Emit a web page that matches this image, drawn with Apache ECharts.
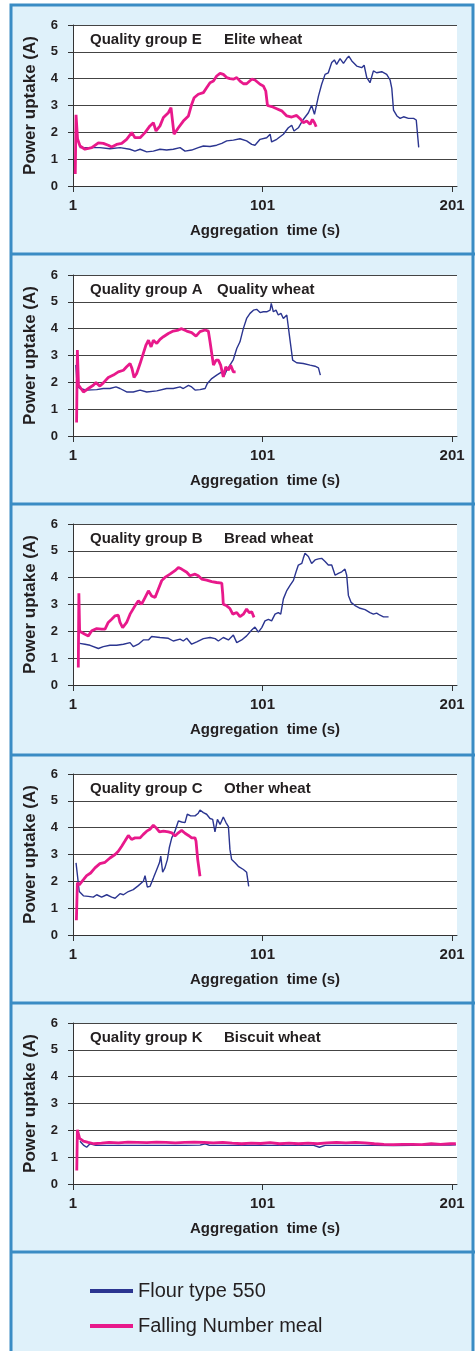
<!DOCTYPE html>
<html>
<head>
<meta charset="utf-8">
<script src="https://cdn.jsdelivr.net/npm/echarts@6/dist/echarts.min.js"></script>
<style>
  html, body { margin: 0; padding: 0; background: #fff; }
  #chart { width: 475px; height: 1351px; }
</style>
</head>
<body>
<div id="chart"></div>
<script>
// series names
const seriesNames = ['Flour type 550', 'Falling Number meal']
const xTickValues = [1, 101, 201]

// group E - Elite wheat
const flourE = [[4.5,1.43],[10,1.43],[15.2,1.43],[20.5,1.39],[25.8,1.43],[31,1.37],[33.7,1.3],[36.4,1.37],[39.9,1.27],[43.4,1.3],[46.9,1.37],[50.4,1.34],[53.9,1.37],[57.5,1.43],[60.1,1.3],[63.6,1.34],[67.1,1.43],[69.8,1.49],[73.3,1.47],[76.8,1.52],[79.5,1.59],[82.1,1.68],[85.6,1.71],[89.1,1.76],[92.6,1.68],[95.3,1.55],[97,1.52],[99.7,1.74],[103.2,1.8],[105,1.93],[105.8,1.64],[108.5,1.74],[112,1.93],[114.6,2.17],[116.4,2.26],[117.6,2.05],[119.9,2.17],[122.5,2.48],[125.2,2.73],[126.9,3.01],[128.4,2.67],[130.5,3.35],[132.2,3.79],[134,4.16],[135.7,4.22],[137.5,4.6],[138.9,4.7],[140.1,4.53],[141.9,4.75],[143.7,4.57],[145.4,4.75],[146.5,4.84],[148.1,4.66],[150.7,4.47],[153.3,4.41],[154.6,4.5],[156,4.04],[157.7,3.85],[159.5,4.29],[161.2,4.22],[163.9,4.26],[166.5,4.16],[168.3,3.95],[169.2,3.64],[170.1,2.83],[171.9,2.61],[173.6,2.52],[175.4,2.58],[178,2.52],[180.7,2.52],[182.1,2.46],[183.4,1.44]]
const mealE = [[2.2,0.45],[2.6,2.65],[3.4,1.75],[4.7,1.49],[7.3,1.37],[10.9,1.43],[14.4,1.61],[17,1.59],[19.6,1.52],[21.4,1.45],[24,1.55],[26.7,1.59],[29.3,1.74],[32,1.99],[33.7,1.8],[36.4,1.8],[39,1.99],[41.6,2.24],[43.4,2.36],[44.8,2.05],[46.9,2.24],[48.7,2.55],[51.3,2.73],[52.7,2.92],[54.3,1.93],[56.6,2.17],[59.2,2.42],[61.9,2.61],[63.6,3.04],[64.9,3.29],[67.1,3.42],[69.8,3.48],[71.5,3.66],[73.3,3.85],[75.1,3.91],[76.8,4.1],[78.6,4.2],[80.3,4.16],[82.1,4.04],[83.8,4.0],[85.6,3.98],[87.4,4.04],[89.1,3.91],[90.9,3.81],[92.6,3.81],[95.3,3.98],[97,3.95],[99.7,3.79],[101.4,3.73],[102.7,3.54],[103.6,3.0],[105.8,2.96],[108.5,2.88],[111.1,2.8],[113.8,2.61],[116.4,2.57],[119,2.63],[120.8,2.51],[122.5,2.36],[124.3,2.42],[126.1,2.3],[127.3,2.48],[128.4,2.36],[129.3,2.21]]

// group A - Quality wheat
const flourA = [[2.5,2.65],[3.2,1.85],[4.7,1.77],[8.2,1.71],[13.5,1.73],[17,1.77],[20.5,1.77],[23.7,1.83],[25.8,1.77],[29.3,1.64],[32.8,1.64],[36.4,1.71],[39.9,1.64],[45.2,1.68],[50.4,1.77],[53.9,1.77],[57.5,1.83],[59.2,1.77],[61.9,1.89],[63.6,1.83],[65.4,1.71],[68,1.73],[70.7,1.77],[71.9,1.96],[74.2,2.14],[76.8,2.27],[79.5,2.39],[80.7,2.23],[82.1,2.45],[83.8,2.64],[85.6,2.85],[87.4,3.26],[89.1,3.51],[90.9,4.01],[92.6,4.38],[94.4,4.57],[96.2,4.69],[97.9,4.72],[99.7,4.6],[101.4,4.63],[103.2,4.63],[105,4.69],[105.6,4.94],[106.7,4.63],[108.1,4.69],[109.3,4.51],[110.7,4.57],[112,4.38],[113.8,4.51],[114.6,4.45],[115.5,3.57],[116.9,2.83],[119,2.73],[122.5,2.7],[126.1,2.64],[128.7,2.6],[130.5,2.54],[131.5,2.27]]
const mealA = [[2.9,0.5],[3.3,3.2],[3.9,1.9],[4.7,1.83],[6.5,1.64],[9.1,1.77],[11.7,1.89],[13.1,1.99],[15.2,1.86],[17,1.98],[19.6,2.18],[22.3,2.27],[24.9,2.39],[27.6,2.45],[29.3,2.58],[31.1,2.7],[32.1,2.52],[33.2,2.18],[34.6,2.33],[36.4,2.7],[38.1,3.08],[39.5,3.39],[40.8,3.57],[42.2,3.32],[43.4,3.57],[45.2,3.45],[46.9,3.6],[48.7,3.7],[51.3,3.82],[53.9,3.91],[56.6,3.95],[58.3,4.0],[61,3.91],[63.6,3.85],[65.9,3.72],[68,3.89],[70.7,3.95],[72.4,3.91],[73.3,3.51],[75.1,2.64],[76.5,2.83],[77.7,2.83],[78.9,2.64],[80.3,2.2],[81.6,2.58],[83,2.45],[84.2,2.64],[85.6,2.39],[86.8,2.39]]

// group B - Bread wheat
const flourB = [[4.5,1.55],[7.3,1.52],[10,1.48],[14.4,1.36],[17,1.43],[20.5,1.48],[24,1.48],[27.6,1.52],[31.1,1.58],[32.8,1.43],[35.5,1.52],[38.1,1.68],[40.8,1.68],[42.5,1.81],[46.9,1.77],[51.3,1.74],[53.9,1.64],[57.5,1.71],[59.2,1.64],[61,1.74],[63.6,1.52],[66.3,1.61],[69.8,1.73],[73.3,1.77],[76,1.73],[77.7,1.64],[80.3,1.77],[83,1.68],[85.6,1.86],[87.4,1.58],[90,1.68],[92.6,1.83],[95.3,2.05],[97,2.16],[98.8,1.97],[100.6,2.14],[102.3,2.39],[104.1,2.45],[105.8,2.39],[107.6,2.64],[109.3,2.7],[110.6,2.64],[112,3.21],[113.8,3.52],[115.5,3.71],[117.3,3.9],[118.7,4.22],[119.9,4.47],[121.7,4.53],[122.5,4.72],[123.4,4.91],[125.2,4.79],[126.9,4.53],[128.7,4.66],[130.5,4.7],[132.2,4.72],[134,4.6],[135.7,4.47],[137.5,4.47],[139.3,4.09],[141,4.16],[142.8,4.22],[144.5,4.32],[145.4,4.09],[146.3,3.34],[147.7,3.08],[149.8,2.96],[152.5,2.86],[155.1,2.81],[157.7,2.7],[159.5,2.64],[161.2,2.68],[163,2.6],[164.8,2.54],[167.5,2.54]]
const mealB = [[3.8,0.65],[4.1,3.42],[4.5,2.0],[4.7,1.96],[7.3,1.89],[9.1,1.83],[10.9,2.02],[13.5,2.1],[16.1,2.08],[17.9,2.08],[19.6,2.33],[21.4,2.45],[23.2,2.58],[24.9,2.6],[25.8,2.33],[27.2,2.14],[29.3,2.33],[31.1,2.64],[33.7,2.95],[35.5,3.14],[37.2,3.01],[39,3.26],[40.8,3.51],[42.5,3.32],[44.3,3.26],[46,3.57],[47.8,3.89],[49.5,4.01],[52.2,4.13],[54.8,4.26],[56.6,4.38],[58.3,4.32],[61,4.2],[62.7,4.07],[65.4,4.13],[67.1,4.07],[68.9,3.95],[71.5,3.91],[74.2,3.85],[76.8,3.82],[79.5,3.8],[80,3.39],[80.3,3.01],[82.1,2.95],[83.8,2.85],[85.3,2.64],[87.4,2.7],[89.1,2.55],[90.9,2.64],[92.6,2.83],[94,2.7],[95.3,2.73],[96.5,2.52]]

// group C - Other wheat
const flourC = [[2.6,2.69],[4.3,1.62],[6.5,1.46],[9.1,1.44],[11.7,1.41],[13.5,1.5],[16.1,1.41],[18.8,1.5],[21.4,1.41],[23.2,1.37],[25.8,1.54],[27.6,1.5],[30.2,1.62],[32.8,1.69],[35.5,1.84],[38.1,2.0],[39,2.21],[40.2,1.79],[41.6,1.81],[43.4,2.12],[45.2,2.44],[46.6,2.69],[47.3,2.94],[48.3,2.34],[49.5,2.5],[50.8,2.81],[51.8,3.25],[53.1,3.62],[54.8,3.87],[56.6,4.25],[58.3,4.21],[60.1,4.19],[61.3,4.5],[63.1,4.44],[65.4,4.44],[67.1,4.54],[68,4.66],[69.8,4.56],[71.5,4.5],[73.3,4.34],[74.7,4.31],[75.9,3.84],[77.2,4.31],[78.6,4.12],[80.3,4.4],[81.7,4.19],[83,4.04],[83.8,3.19],[84.7,2.81],[86.5,2.69],[88.2,2.56],[90.9,2.44],[92.6,2.34],[93.7,1.81]]
const mealC = [[2.8,0.55],[3.3,1.95],[4.3,1.87],[6.5,2.06],[8.2,2.21],[10.3,2.31],[12.6,2.5],[15.2,2.66],[17.9,2.71],[20.5,2.87],[23.2,3.0],[24.9,3.12],[26.7,3.31],[28.4,3.5],[30.2,3.71],[31.9,3.56],[33.7,3.62],[36.4,3.62],[38.1,3.75],[39.9,3.87],[41.6,3.94],[43.4,4.09],[44.8,4.0],[46.6,3.84],[48.7,3.87],[51.3,3.84],[53.1,3.81],[54.8,3.69],[56.6,3.81],[58.3,3.9],[60.1,3.79],[61.9,3.71],[63.6,3.62],[65.4,3.62],[65.9,3.5],[66.8,2.81],[68,2.19]]

// group K - Biscuit wheat
const flourK = [[4.7,1.59],[6.5,1.45],[8.2,1.37],[10,1.5],[13,1.44],[20,1.44],[30,1.44],[40,1.44],[50,1.44],[60,1.44],[68,1.45],[70.7,1.5],[73,1.44],[80,1.44],[90,1.44],[100,1.44],[110,1.44],[120,1.44],[128,1.44],[131,1.37],[134,1.44],[140,1.44],[150,1.44],[160,1.44],[170,1.43],[180,1.44],[190,1.45],[200,1.45],[203,1.46]]
const mealK = [[3.0,0.5],[3.3,2.02],[4.5,1.7],[6.5,1.6],[9,1.55],[12,1.5],[16,1.52],[20,1.55],[25,1.53],[30,1.56],[35,1.55],[40,1.54],[45,1.56],[50,1.55],[55,1.53],[60,1.55],[65,1.56],[70,1.55],[75,1.53],[80,1.55],[85,1.52],[90,1.5],[95,1.52],[100,1.51],[105,1.54],[110,1.5],[115,1.52],[120,1.5],[125,1.52],[130,1.5],[135,1.53],[140,1.55],[145,1.53],[150,1.55],[155,1.53],[160,1.5],[165,1.48],[170,1.47],[175,1.48],[180,1.48],[185,1.47],[190,1.5],[195,1.48],[200,1.5],[203,1.5]]

const groupLabels = ['Quality group E', 'Quality group A', 'Quality group B', 'Quality group C', 'Quality group K']
const wheatLabels = ['Elite wheat', 'Quality wheat', 'Bread wheat', 'Other wheat', 'Biscuit wheat']
const flourData = [flourE, flourA, flourB, flourC, flourK]
const mealData = [mealE, mealA, mealB, mealC, mealK]

// layout
const gridTops = [25, 275, 524, 774, 1023]
const wheatX = [224, 217, 224, 224, 224]
const separators = [254, 504, 755, 1003, 1252]
const gridH = 161
const FONT = '"Liberation Sans", Arial, sans-serif'
const TXT = '#231f20'
const BLUE = '#2b3590'
const PINK = '#e8198b'
const FRAME = '#3a8cc4'

const grids = [], xAxes = [], yAxes = [], series = [], graphics = []

graphics.push({
  type: 'rect', silent: true, z: -10,
  shape: { x: 11, y: 5, width: 462, height: 1360 },
  style: { fill: '#dff1fa', stroke: FRAME, lineWidth: 3 }
})
separators.forEach(y => {
  graphics.push({
    type: 'line', silent: true, z: -9,
    shape: { x1: 11, y1: y, x2: 475, y2: y },
    style: { stroke: FRAME, lineWidth: 3 }
  })
})

gridTops.forEach((top, i) => {
  grids.push({
    left: 73, top: top, width: 384, height: gridH,
    show: true, backgroundColor: '#fff', borderWidth: 0
  })
  xAxes.push({
    type: 'value', gridIndex: i, min: 1, max: 203.6,
    name: 'Aggregation  time (s)', nameLocation: 'middle', nameGap: 37,
    nameTextStyle: { fontFamily: FONT, fontWeight: 'bold', fontSize: 15, color: TXT },
    axisLine: { show: true, lineStyle: { color: '#333', width: 1 } },
    axisTick: { show: true, customValues: xTickValues, length: 6, lineStyle: { color: '#333' } },
    axisLabel: { customValues: xTickValues, margin: 12, fontFamily: FONT, fontWeight: 'bold', fontSize: 15, color: TXT },
    splitLine: { show: false }
  })
  yAxes.push({
    type: 'value', gridIndex: i, min: 0, max: 6, interval: 1,
    name: 'Power uptake (A)', nameLocation: 'middle', nameGap: 34, nameRotate: 90,
    nameTextStyle: { fontFamily: FONT, fontWeight: 'bold', fontSize: 17, color: TXT },
    axisLine: { show: true, lineStyle: { color: '#333', width: 1 } },
    axisTick: { show: true, length: 5, lineStyle: { color: '#333' } },
    axisLabel: { margin: 15, fontFamily: FONT, fontWeight: 'bold', fontSize: 13, color: TXT },
    splitLine: { show: true, lineStyle: { color: '#444', width: 1 } }
  })
  series.push({
    name: seriesNames[0], type: 'line', xAxisIndex: i, yAxisIndex: i,
    data: flourData[i], showSymbol: false, animation: false,
    lineStyle: { color: BLUE, width: 1.4 }, itemStyle: { color: BLUE }
  })
  series.push({
    name: seriesNames[1], type: 'line', xAxisIndex: i, yAxisIndex: i,
    data: mealData[i], showSymbol: false, animation: false,
    lineStyle: { color: PINK, width: 2.8 }, itemStyle: { color: PINK }
  })
  graphics.push({
    type: 'text', silent: true, z: 10, x: 90, y: top + 15,
    style: { text: groupLabels[i], font: 'bold 15px ' + FONT, fill: TXT, verticalAlign: 'middle' }
  })
  graphics.push({
    type: 'text', silent: true, z: 10, x: wheatX[i], y: top + 15,
    style: { text: wheatLabels[i], font: 'bold 15px ' + FONT, fill: TXT, verticalAlign: 'middle' }
  })
})

const chart = echarts.init(document.getElementById('chart'))
chart.setOption({
  animation: false,
  grid: grids,
  xAxis: xAxes,
  yAxis: yAxes,
  series: series,
  graphic: graphics,
  legend: {
    data: seriesNames.map(n => ({ name: n, icon: 'rect' })),
    orient: 'vertical', left: 90, top: 1281, padding: 0,
    itemWidth: 43, itemHeight: 4, itemGap: 15,
    textStyle: { fontFamily: FONT, fontSize: 20, color: TXT }
  }
})
</script>
</body>
</html>
